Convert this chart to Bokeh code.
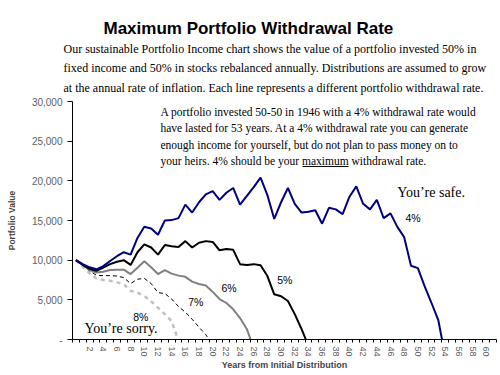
from bokeh.plotting import figure
from bokeh.models import Range1d, FixedTicker, Label, BoxAnnotation, NumeralTickFormatter, Title
from bokeh.embed import file_html
from bokeh.resources import INLINE

# ---------------- data ----------------
rate_4 = [10000, 9500, 9100, 8850, 9250, 9900, 10500, 11000, 10700, 12800,
          14200, 14000, 13200, 15000, 15050, 15300, 17000, 16000, 17300, 18300,
          18700, 17600, 18500, 19100, 17000, 18100, 19200, 20400, 18200, 15200,
          17300, 19100, 17100, 16000, 16100, 16300, 14600, 16600, 16400, 15800,
          18000, 19300, 17100, 16400, 17600, 15300, 15900, 14200, 12900, 9300,
          9000, 6700, 4600, 2400, -2100]
rate_5 = [10000, 9400, 8900, 8650, 9050, 9500, 9800, 10000, 9400, 11000,
          12000, 11600, 10700, 11900, 11750, 11650, 12400, 11600, 12200, 12400,
          12300, 11250, 11400, 11300, 9500, 9400, 9500, 9350, 8000, 5700,
          5450, 4850, 3200, 1300, -800]
rate_6 = [10000, 9400, 8750, 8450, 8550, 8750, 8800, 8800, 8250, 9050,
          9850, 9100, 8250, 8750, 8300, 8050, 7900, 7300, 7000, 6800,
          6000, 5100, 4600, 3800, 2700, 1300, -1100]
rate_7 = [10000, 9350, 8650, 8100, 8050, 8050, 8000, 7800, 7050, 7600,
          7700, 7050, 5900, 5800, 5100, 4150, 3450, 2550, 1550, 600, -700]
rate_8 = [10000, 9150, 8350, 7700, 7500, 7400, 7200, 6950, 6150, 5900,
          5500, 4800, 4000, 3200, 2300, -200]

x_tick_years = list(range(2, 61, 2))
x_tick_labels = [str(v) for v in x_tick_years]
y_ticks = [0, 5000, 10000, 15000, 20000, 25000, 30000]
y_tick_labels = ["-", "5,000", "10,000", "15,000", "20,000", "25,000", "30,000"]

# ---------------- figure ----------------
W, H = 500, 375
FL, FT, FB = 72, 101, 339          # frame left / top / bottom (canvas px)
p = figure(width=W, height=H, output_backend="svg", toolbar_location=None,
           x_range=Range1d(-0.5, 61.5), y_range=Range1d(0, 30000),
           min_border_left=FL, min_border_right=4, min_border_top=FT,
           min_border_bottom=H - FB)
p.outline_line_color = None
p.grid.visible = False
p.background_fill_color = "white"
p.border_fill_color = "white"

def line(vals, **kw):
    p.line(list(range(len(vals))), vals, **kw)

line(rate_8, line_color="#c0c0c0", line_width=2.5, line_dash="4 4")
line(rate_7, line_color="black", line_width=1, line_dash="4 3")
line(rate_6, line_color="#808080", line_width=2)
line(rate_5, line_color="black", line_width=2)
line(rate_4, line_color="#000080", line_width=2)

# x axis
xa = p.xaxis[0]
xa.ticker = FixedTicker(ticks=x_tick_years,
                        minor_ticks=[k - 0.5 for k in range(0, 63)])
xa.major_label_overrides = dict(zip(x_tick_years, x_tick_labels))
xa.major_tick_out = 0
xa.major_tick_in = 0
xa.minor_tick_out = 3
xa.minor_tick_in = 0
xa.major_label_orientation = "vertical"
xa.major_label_text_font = "Liberation Sans"
xa.major_label_text_font_size = "9px"
xa.major_label_text_color = "#606060"
xa.major_label_standoff = 4
xa.axis_label = "Years from Initial Distribution"
xa.axis_label_text_font = "Liberation Sans"
xa.axis_label_text_font_size = "9px"
xa.axis_label_text_font_style = "bold"
xa.axis_label_standoff = 0
xa.axis_line_color = "black"

# y axis
ya = p.yaxis[0]
ya.ticker = FixedTicker(ticks=y_ticks)
ya.formatter = NumeralTickFormatter(format="0,0")
ya.major_label_overrides = dict(zip(y_ticks, y_tick_labels))
ya.major_tick_out = 5
ya.major_tick_in = 0
ya.minor_tick_out = 0
ya.minor_tick_in = 0
ya.major_label_text_font = "Liberation Sans"
ya.major_label_text_font_size = "10px"
ya.major_label_text_color = "#606060"
ya.major_label_standoff = 5
ya.axis_label = "Portfolio Value"
ya.axis_label_text_font = "Liberation Sans"
ya.axis_label_text_font_size = "8.5px"
ya.axis_label_text_font_style = "bold"
ya.axis_label_standoff = 12
ya.axis_line_color = "black"

# ---------------- heading texts (stacked titles above the frame) ----------
para = ["Our sustainable Portfolio Income chart shows the value of a portfolio invested 50% in",
        "fixed income and 50% in stocks rebalanced annually. Distributions are assumed to grow",
        "at the annual rate of inflation. Each line represents a different portfolio withdrawal rate."]
p.add_layout(Title(text="\n".join(para), align="left", offset=63 - FL,
                   vertical_align="top", standoff=8,
                   text_font="Liberation Serif", text_font_size="12px",
                   text_font_style="normal", text_line_height=1.417,
                   text_color="black"), "above")
p.add_layout(Title(text="Maximum Portfolio Withdrawal Rate", align="left",
                   offset=103 - FL, vertical_align="bottom", standoff=0,
                   text_font="Liberation Sans", text_font_size="17px",
                   text_font_style="bold", text_color="black"), "above")

# ---------------- texts inside the plot area ----------------
def txt(t, px, py, size, font="Liberation Serif", style="normal",
        align="left", baseline="middle", color="black"):
    p.add_layout(Label(x=px - FL, y=FB - py, x_units="screen", y_units="screen",
                       text=t, text_font=font, text_font_size=size,
                       text_font_style=style, text_align=align,
                       text_baseline=baseline, text_color=color))

note = ["A portfolio invested 50-50 in 1946 with a 4% withdrawal rate would",
        "have lasted for 53 years. At a 4% withdrawal rate you can generate",
        "enough income for yourself, but do not plan to pass money on to",
        "your heirs. 4% should be your maximum withdrawal rate."]
for i, s in enumerate(note):
    txt(s, 160, 111 + 16.6 * i, "11.5px")
# underline of "maximum"
p.add_layout(BoxAnnotation(left=302 - FL, right=348 - FL,
                           top=FB - 165.5, bottom=FB - 166.5,
                           left_units="screen", right_units="screen",
                           top_units="screen", bottom_units="screen",
                           fill_color="black", fill_alpha=1, line_color=None))

txt("You\u2019re safe.", 396.7, 191.7, "14px")
txt("You\u2019re sorry.", 84, 328.3, "14px")

for lab, px, py in [("4%", 405, 217.7), ("5%", 276.7, 279.3), ("6%", 221, 287.3),
                    ("7%", 187.7, 301.7), ("8%", 132.7, 316)]:
    txt(lab, px, py, "10.5px", font="Liberation Sans")

open("out.html", "w").write(file_html(p, INLINE))
